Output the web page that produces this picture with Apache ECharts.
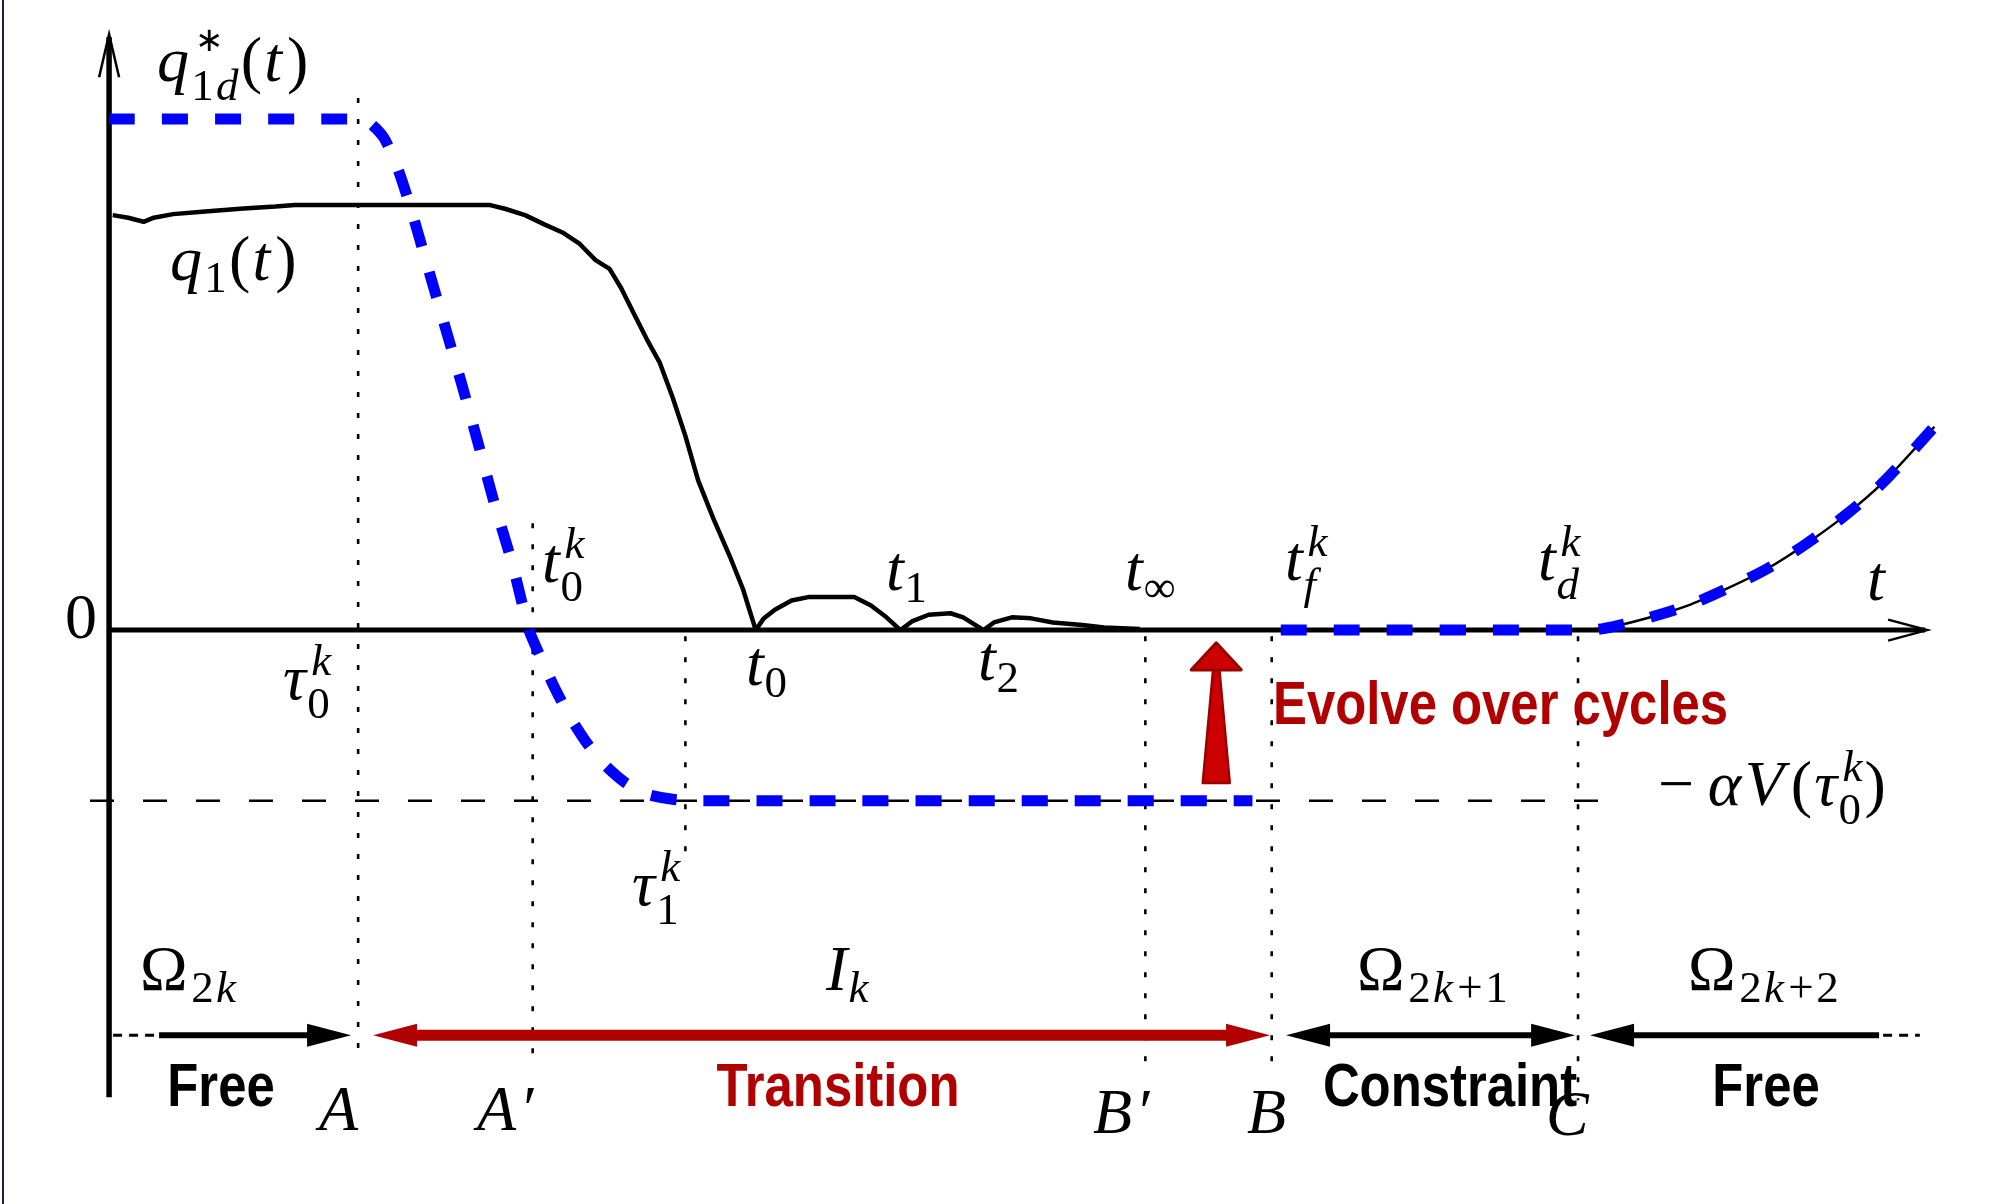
<!DOCTYPE html>
<html>
<head>
<meta charset="utf-8">
<title>Transition between free and constrained phases</title>
<script src="https://cdn.jsdelivr.net/npm/echarts@6/dist/echarts.min.js"></script>
<style>
  html, body { margin: 0; padding: 0; background: #ffffff; }
  #chart { width: 2008px; height: 1204px; }
</style>
</head>
<body>
<div id="chart"></div>
<script>
// Desired trajectory q*_{1d}(t), first part: hold, transition down, hold at -αV(τ0^k)
const desiredT = [0, 13.73, 14.43, 15.14, 15.84, 16.54, 17.46, 18.38, 19.36, 20.28, 21.19, 22.18, 23.10,
                  23.80, 24.51, 25.35, 26.26, 27.25, 28.38, 29.58, 30.99, 32.40, 62.89];
const desiredQ = [100, 100, 99.0, 96.2, 90.7, 83.2, 71.9, 60.6, 48.6, 36.8, 24.8, 13.0, 0,
                  -5.8, -11.3, -17.0, -22.0, -26.3, -29.8, -32.1, -33.1, -33.4, -33.4];

// Desired trajectory, second part: zero on the constraint, then leaving it after t_d^k
const desiredT2 = [64.45, 81.34, 82.75, 84.87, 86.98, 89.10, 91.20, 93.32, 95.44, 97.55, 100.4];
const desiredQ2 = [0, 0, 0.7, 2.6, 5.0, 8.3, 12.0, 16.8, 22.3, 28.8, 39.8];

// Actual response q1(t): lags behind, reaches zero at t0 and bounces with shrinking impacts
const actualT = [0.2, 1.05, 1.9, 2.46, 3.52, 5.28, 7.39, 9.15, 10.21, 20.91, 21.82, 22.88, 23.94, 25.0,
                 25.85, 26.76, 27.53, 28.17, 28.87, 29.58, 30.28, 30.99, 31.69, 32.4, 33.24, 34.16, 34.87,
                 35.57, 35.99, 36.62, 37.54, 38.53, 40.99, 41.91, 42.76, 43.53, 44.16, 45.08, 46.28,
                 46.98, 48.1, 48.67, 49.66, 50.71, 51.91, 53.53, 54.73, 56.7];
const actualQ = [81.2, 80.7, 79.9, 80.7, 81.4, 81.9, 82.5, 82.9, 83.2, 83.2, 82.4, 81.2, 79.4, 77.7,
                 75.7, 72.4, 70.7, 66.9, 61.9, 56.9, 52.4, 45.6, 38.1, 29.3, 21.8, 14.3, 8.0,
                 0, 2.2, 4.0, 5.8, 6.5, 6.5, 4.8, 2.5, 0, 1.7, 3.0, 3.3,
                 2.5, 0, 1.5, 2.5, 2.3, 1.5, 1.0, 0.5, 0.2];

// Level -αV(τ0^k) and the extent of its reference line
const alphaVLevel = -33.4;
const alphaVFrom = -1.05;
const alphaVTo = 83.4;

// Event guides: A, A', τ1^k, B', B, C
const guideNames = ['A', "A'", 'tau1', "B'", 'B', 'C'];
const guideT = [13.7, 23.3, 31.7, 57.0, 63.95, 80.8];
const guideTop = [104.1, 20.9, -1.2, -1.2, -1.2, -1.2];
const guideBottom = [-83.6, -83.6, -44.0, -84.7, -86.7, -92.0];

// Phase intervals Ω_{2k}, I_k, Ω_{2k+1}, Ω_{2k+2}
const phaseNames = ['Free', 'Transition', 'Constraint', 'Free'];
const phaseFrom = [2.75, 14.52, 64.74, 81.46];
const phaseTo = [13.31, 63.86, 80.64, 97.36];
const phaseTailFrom = 0.22;
const phaseTailTo = 99.6;
const phaseLevel = -79.3;

// Drift of the transition over cycles
const driftT = 60.9;
const driftFrom = -29.9;
const driftTo = -2.5;

// Axis extents
const axisTEnd = 100;
const axisQTop = 116.6;
const axisQBottom = -91.4;

// Visible window of the value axes (whole canvas)
const T_MIN = -6, T_MAX = 104.45, Q_MIN = -112.3, Q_MAX = 123.3;

const zip = (xs, ys) => xs.map((x, i) => [x, ys[i]]);

// ---------- text helpers (math-style labels) ----------
const MID = 0.34;
const BASE = 64, SCRIPT = 45;
const WIDEN = 1.1;
const SERIF = '"Liberation Serif", "Times New Roman", serif';
const SANS = '"Liberation Sans", Arial, sans-serif';
const measureCtx = document.createElement('canvas').getContext('2d');
const isItalic = ch => /[A-Za-zα-ω]/.test(ch);
const fontFor = (ch, size) => (isItalic(ch) ? 'italic ' : '') + size + 'px ' + SERIF;
function textWidth(ch, size) {
  measureCtx.font = fontFor(ch, size);
  return measureCtx.measureText(ch).width;
}
function glyphRun(str, size, x, baseline, fill, out) {
  let prevItalic = false;
  for (const ch of str) {
    const it = isItalic(ch);
    if (prevItalic && !it) x += 0.05 * size;
    out.push({
      type: 'text', x: x, y: baseline - MID * size, silent: true, z: 100,
      style: { text: ch, font: fontFor(ch, size), fill: fill, textAlign: 'left', textVerticalAlign: 'middle' }
    });
    x += textWidth(ch, size) * WIDEN;
    prevItalic = it;
  }
  return x;
}
function mathLabel(spec, fill) {
  const out = [];
  let x = spec.left;
  for (const a of spec.atoms) {
    x = glyphRun(a.b, BASE, x, spec.base, fill, out);
    let end = x;
    const both = a.sup && a.sub;
    if (a.sup) end = Math.max(end, glyphRun(a.sup, a.supSize || SCRIPT, x + 3, spec.base - (a.supRaise || 0.40) * BASE, fill, out));
    if (a.sub) end = Math.max(end, glyphRun(a.sub, SCRIPT, x - 1, spec.base + (both ? 0.27 : 0.16) * BASE, fill, out));
    x = end + (a.gap || 0);
  }
  return out;
}
function boldWord(text, x, y, fill, align) {
  return {
    type: 'text', x: x, y: y, scaleX: 0.82, silent: true, z: 100,
    style: { text: text, font: 'bold 62px ' + SANS, fill: fill, textAlign: align || 'center', textVerticalAlign: 'middle' }
  };
}

const mathLabels = [
  { atoms: [{ b: 'q', sup: '∗', supSize: 34, supRaise: 0.5, sub: '1d' }, { b: '(t)' }], left: 157, base: 86 },
  { atoms: [{ b: 'q', sub: '1' }, { b: '(t)' }], left: 170, base: 285 },
  { atoms: [{ b: '0' }], left: 65, base: 643 },
  { atoms: [{ b: 'τ', sup: 'k', sub: '0' }], left: 283, base: 704 },
  { atoms: [{ b: 't', sup: 'k', sub: '0' }], left: 542, base: 587 },
  { atoms: [{ b: 't', sub: '0' }], left: 746, base: 690 },
  { atoms: [{ b: 't', sub: '1' }], left: 886, base: 595 },
  { atoms: [{ b: 't', sub: '2' }], left: 978, base: 685 },
  { atoms: [{ b: 't', sub: '∞' }], left: 1125, base: 595 },
  { atoms: [{ b: 't', sup: 'k', sub: 'f' }], left: 1285, base: 585 },
  { atoms: [{ b: 't', sup: 'k', sub: 'd' }], left: 1538, base: 585 },
  { atoms: [{ b: 't' }], left: 1867, base: 605 },
  { atoms: [{ b: '−', gap: 10 }, { b: 'αV(' }, { b: 'τ', sup: 'k', sub: '0' }, { b: ')' }], left: 1658, base: 810 },
  { atoms: [{ b: 'τ', sup: 'k', sub: '1' }], left: 632, base: 910 },
  { atoms: [{ b: 'Ω', sub: '2k' }], left: 140, base: 995 },
  { atoms: [{ b: 'I', sub: 'k' }], left: 826, base: 995 },
  { atoms: [{ b: 'Ω', sub: '2k+1' }], left: 1357, base: 995 },
  { atoms: [{ b: 'Ω', sub: '2k+2' }], left: 1688, base: 995 },
  { atoms: [{ b: 'A' }], left: 319, base: 1135 },
  { atoms: [{ b: 'A′' }], left: 477, base: 1135 },
  { atoms: [{ b: 'B′' }], left: 1093, base: 1138 },
  { atoms: [{ b: 'B' }], left: 1247, base: 1138 },
  { atoms: [{ b: 'C' }], left: 1546, base: 1140 }
];

const RED = '#b00000';
const graphicEls = [
  // frame edge on the left
  { type: 'line', silent: true, z: 100, shape: { x1: 3, y1: 0, x2: 3, y2: 1204 }, style: { stroke: '#1c1c3c', lineWidth: 2 } }
];
mathLabels.forEach(s => graphicEls.push(...mathLabel(s, '#000')));
graphicEls.push(boldWord('Evolve over cycles', 1273, 707, RED, 'left'));
const phaseWordX = [221, 838, 1450, 1766];
phaseNames.forEach((n, i) => graphicEls.push(boldWord(n, phaseWordX[i], 1089, i === 1 ? RED : '#000')));

// ---------- chart ----------
const chart = echarts.init(document.getElementById('chart'), null, { renderer: 'canvas' });

function arrowHead(tipX, tipY, dir, len, half) {
  return [[tipX, tipY], [tipX - dir * len, tipY - half], [tipX - dir * len, tipY + half]];
}

const option = {
  animation: false,
  backgroundColor: '#ffffff',
  grid: { left: 0, right: 0, top: 0, bottom: 0, containLabel: false },
  xAxis: { type: 'value', min: T_MIN, max: T_MAX, show: false },
  yAxis: { type: 'value', min: Q_MIN, max: Q_MAX, show: false },
  series: [
    {
      // dotted event guides
      type: 'custom', z: 1, silent: true,
      data: guideT.map((t, i) => [t, guideTop[i], guideBottom[i]]),
      renderItem: (params, api) => {
        const a = api.coord([api.value(0), api.value(1)]);
        const b = api.coord([api.value(0), api.value(2)]);
        return {
          type: 'line', shape: { x1: a[0], y1: a[1], x2: b[0], y2: b[1] },
          style: { stroke: '#000', lineWidth: 2.6, lineDash: [5, 16] }
        };
      }
    },
    {
      // reference level -αV(τ0^k)
      type: 'line', z: 2, silent: true, symbol: 'none', clip: false,
      data: [[alphaVFrom, alphaVLevel], [alphaVTo, alphaVLevel]],
      lineStyle: { color: '#000', width: 2.5, type: [24, 29] }
    },
    {
      // axes with open arrow heads
      type: 'custom', z: 3, silent: true, data: [[0, 0]],
      renderItem: (params, api) => {
        const o = api.coord([0, 0]);
        const xe = api.coord([axisTEnd, 0]);
        const yt = api.coord([0, axisQTop]);
        const yb = api.coord([0, axisQBottom]);
        return {
          type: 'group', children: [
            { type: 'line', shape: { x1: o[0], y1: o[1], x2: xe[0] - 2, y2: o[1] }, style: { stroke: '#000', lineWidth: 5 } },
            { type: 'polyline', shape: { points: [[xe[0] - 39, o[1] - 10.5], [xe[0], o[1]], [xe[0] - 39, o[1] + 10.5]] },
              style: { stroke: '#000', lineWidth: 2.5, fill: null } },
            { type: 'line', shape: { x1: o[0], y1: yb[1], x2: o[0], y2: yt[1] + 3 }, style: { stroke: '#000', lineWidth: 5.5 } },
            { type: 'polyline', shape: { points: [[o[0] - 10, yt[1] + 43], [o[0], yt[1]], [o[0] + 10, yt[1] + 43]] },
              style: { stroke: '#000', lineWidth: 2.5, fill: null } }
          ]
        };
      }
    },
    {
      // actual joint response q1(t)
      type: 'line', z: 4, silent: true, symbol: 'none', clip: false,
      data: zip(actualT, actualQ),
      lineStyle: { color: '#000', width: 4.5 }
    },
    {
      // q1(t) tracking the desired motion after t_d^k
      type: 'line', z: 4, silent: true, symbol: 'none', clip: false,
      data: zip(desiredT2.slice(1), desiredQ2.slice(1)),
      smooth: 0.3,
      lineStyle: { color: '#000', width: 2.5 }
    },
    {
      // desired trajectory, first part
      type: 'line', z: 5, silent: true, symbol: 'none', clip: false,
      data: zip(desiredT, desiredQ),
      smooth: 0.2,
      lineStyle: { color: '#0000ff', width: 11, type: [26, 27], cap: 'butt' }
    },
    {
      // desired trajectory, second part
      type: 'line', z: 5, silent: true, symbol: 'none', clip: false,
      data: zip(desiredT2, desiredQ2),
      smooth: 0.3,
      lineStyle: { color: '#0000ff', width: 11, type: [26, 27], cap: 'butt' }
    },
    {
      // phase intervals along the bottom
      type: 'custom', z: 6, silent: true,
      data: phaseFrom.map((f, i) => [f, phaseLevel, phaseTo[i], i]),
      renderItem: (params, api) => {
        const i = api.value(3);
        const n = phaseFrom.length;
        const a = api.coord([api.value(0), api.value(1)]);
        const b = api.coord([api.value(2), api.value(1)]);
        const red = i === 1;
        const color = red ? RED : '#000';
        const width = red ? 11 : 6;
        const len = 44, half = 11.5;
        const headStart = i !== 0;
        const headEnd = i !== n - 1;
        const children = [];
        const x1 = headStart ? a[0] + len - 1 : a[0];
        const x2 = headEnd ? b[0] - len + 1 : b[0];
        children.push({ type: 'line', shape: { x1: x1, y1: a[1], x2: x2, y2: a[1] }, style: { stroke: color, lineWidth: width } });
        if (headStart) children.push({ type: 'polygon', shape: { points: arrowHead(a[0], a[1], -1, len, half) }, style: { fill: color } });
        if (headEnd) children.push({ type: 'polygon', shape: { points: arrowHead(b[0], b[1], 1, len, half) }, style: { fill: color } });
        if (i === 0) {
          const t = api.coord([phaseTailFrom, api.value(1)]);
          children.push({ type: 'line', shape: { x1: t[0], y1: a[1], x2: a[0], y2: a[1] }, style: { stroke: '#000', lineWidth: 3, lineDash: [9, 7] } });
        }
        if (i === n - 1) {
          const t = api.coord([phaseTailTo, api.value(1)]);
          children.push({ type: 'line', shape: { x1: b[0] + 4, y1: a[1], x2: t[0], y2: a[1] }, style: { stroke: '#000', lineWidth: 3, lineDash: [9, 7] } });
        }
        return { type: 'group', children: children };
      }
    },
    {
      // drift of the transition over cycles
      type: 'custom', z: 7, silent: true,
      data: [[driftT, driftFrom, driftTo]],
      renderItem: (params, api) => {
        const b = api.coord([api.value(0), api.value(1)]);
        const t = api.coord([api.value(0), api.value(2)]);
        const x = t[0];
        const headY = t[1] + 27;
        return {
          type: 'group', children: [
            { type: 'polygon', shape: { points: [[x - 3, headY - 2], [x + 3, headY - 2], [x + 13.5, b[1]], [x - 13.5, b[1]]] },
              style: { fill: '#cc0000', stroke: '#990000', lineWidth: 2.5, lineJoin: 'round' } },
            { type: 'polygon', shape: { points: [[x, t[1]], [x + 25, headY], [x - 25, headY]] },
              style: { fill: '#cc0000', stroke: '#990000', lineWidth: 3, lineJoin: 'round' } }
          ]
        };
      }
    }
  ],
  graphic: { elements: graphicEls }
};

chart.setOption(option);
</script>
</body>
</html>
